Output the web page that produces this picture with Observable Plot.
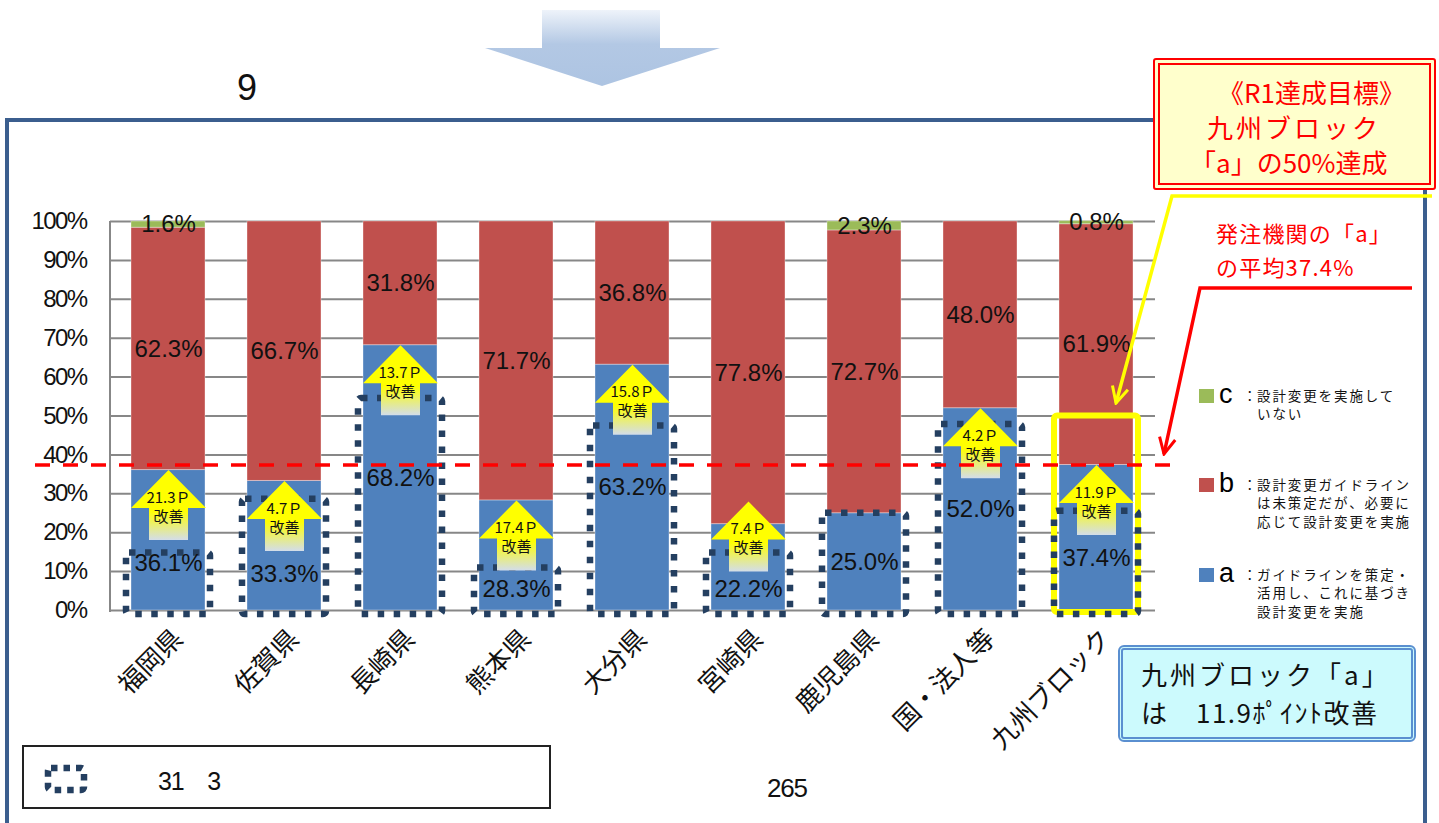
<!DOCTYPE html>
<html lang="ja">
<head>
<meta charset="utf-8">
<title>設計変更ガイドラインの策定・活用状況</title>
<script src="https://cdn.jsdelivr.net/npm/d3@7"></script>
<script src="https://cdn.jsdelivr.net/npm/@observablehq/plot@0.6"></script>
<style>
  html, body { margin: 0; padding: 0; background: #fff; overflow: hidden; }
  #page { position: relative; width: 1439px; height: 823px; font-family: "Noto Sans CJK JP", sans-serif; }
  .abs { position: absolute; }
  #chart svg { position: absolute; left: 0; top: 0; }
  g[aria-label="value label"] text { letter-spacing: -1.3px; }
  g[aria-label="y-axis tick label"] text { letter-spacing: -1.6px; }
  g[aria-label="arrow label"] text { letter-spacing: 0.6px; }
  #frame { left: 5px; top: 118px; width: 1414px; height: 760px; border: 4px solid #3B5E8E; }
  .redbox { left: 1153px; top: 58px; width: 269px; height: 118px; border: 7px double #FF0000; background: #FFFFCC;
            color: #FF0000; font-size: 26px; line-height: 35px; border-radius: 3px; }
  .cyanbox { left: 1118px; top: 645px; width: 288px; height: 87px; border: 5px double #5A8FD0; border-radius: 6px;
             background: #CCFAFD; color: #111; font-size: 26px; line-height: 38px; }
  .note { color: #FF0000; font-size: 22px; line-height: 32px; letter-spacing: 1.2px; left: 1216px; white-space: nowrap; }
  .legend-sq { width: 15px; height: 14px; }
  .legend-key { font-family: "Liberation Sans", Arial, sans-serif; font-size: 27px; line-height: 20px; }
  .legend-txt { font-size: 13.5px; line-height: 18.4px; letter-spacing: 1.9px; color: #111; white-space: nowrap; }
  .legend-colon { font-size: 13.5px; line-height: 18.4px; color: #111; }
  .footbox { left: 22px; top: 745px; width: 525px; height: 60px; border: 2px solid #222; }
  .digits { font-family: "Liberation Sans", Arial, sans-serif; color: #111; letter-spacing: -1.2px; }
</style>
</head>
<body>
<div id="page">
  <div id="frame" class="abs"></div>
  <div id="chart"></div>
</div>
<script>
// Categories (prefectures and groups) along the x axis
const categories = ["福岡県", "佐賀県", "長崎県", "熊本県", "大分県", "宮崎県", "鹿児島県", "国・法人等", "九州ブロック"];
// Share of each response (percent)
const shareA = [36.1, 33.3, 68.2, 28.3, 63.2, 22.2, 25.0, 52.0, 37.4];
const shareB = [62.3, 66.7, 31.8, 71.7, 36.8, 77.8, 72.7, 48.0, 61.9];
const shareC = [1.6, 0, 0, 0, 0, 0, 2.3, 0, 0.8];
// Improvement of "a" in points since the previous survey
const improvement = [21.3, 4.7, 13.7, 17.4, 15.8, 7.4, 0, 4.2, 11.9];
// R1 target for the Kyushu block "a" share
const targetKyushuA = 50;
const seriesKeys = ["a", "b", "c"];
const seriesColors = ["#4F81BD", "#C0504D", "#9BBB59"];
const yTicks = [0, 10, 20, 30, 40, 50, 60, 70, 80, 90, 100];

const legendItems = [
  {key: "c", lines: ["設計変更を実施して", "いない"]},
  {key: "b", lines: ["設計変更ガイドライン", "は未策定だが、必要に", "応じて設計変更を実施"]},
  {key: "a", lines: ["ガイドラインを策定・", "活用し、これに基づき", "設計変更を実施"]}
];

const fmt = v => v.toFixed(1) + "%";
const kyushu = categories.length - 1;
// Arrows on very short bars are lifted so they do not cover the value label
const arrowFloor = 28;

// Long-format rows for the stacked bars
const rows = [];
categories.forEach((cat, i) => {
  rows.push({cat, series: "a", value: shareA[i]});
  rows.push({cat, series: "b", value: shareB[i]});
  rows.push({cat, series: "c", value: shareC[i]});
});

// Previous "a" share (dotted outline) = current minus improvement
const priorRows = categories.map((cat, i) => ({cat, prev: +(shareA[i] - improvement[i]).toFixed(1)}));
// Improvement arrows sit on top of the current "a" share
const arrowRows = categories
  .map((cat, i) => ({cat, tip: Math.max(shareA[i], arrowFloor), label: improvement[i].toFixed(1) + "Ｐ", imp: improvement[i]}))
  .filter(d => d.imp > 0);

// Segment labels; "a" labels move below the arrow where the arrow covers the middle
const labelRows = [];
categories.forEach((cat, i) => {
  const a = shareA[i], b = shareB[i], c = shareC[i];
  const tip = Math.max(a, arrowFloor);
  const ya = improvement[i] > 0 ? Math.max(5.5, Math.min(a / 2, tip - 24)) : a / 2;
  labelRows.push({cat, y: ya, text: fmt(a)});
  labelRows.push({cat, y: a + b / 2, text: fmt(b)});
  if (c > 0) labelRows.push({cat, y: a + b + c / 2, text: fmt(c)});
});

// Block arrow symbol: tip at the anchor, head as wide as the bar, shaft below
const upArrow = {
  draw(ctx) {
    ctx.moveTo(0, 0);
    ctx.lineTo(37.5, 38);
    ctx.lineTo(19.5, 38);
    ctx.lineTo(19.5, 70);
    ctx.lineTo(-19.5, 70);
    ctx.lineTo(-19.5, 38);
    ctx.lineTo(-37.5, 38);
    ctx.closePath();
  }
};

// Gradient used by the improvement arrows
const gradientDefs = () => {
  const defs = d3.create("svg:defs");
  const g = defs.append("linearGradient").attr("id", "arrowFill")
    .attr("x1", 0).attr("y1", 0).attr("x2", 0).attr("y2", 1);
  g.append("stop").attr("offset", 0).attr("stop-color", "#FFFF00");
  g.append("stop").attr("offset", 0.58).attr("stop-color", "#FFFF00");
  g.append("stop").attr("offset", 1).attr("stop-color", "#D3DDEA");
  return defs.node();
};

// Vertical axis line at the left edge of the plot area
const leftAxisLine = (index, scales, values, dims) =>
  d3.create("svg:line")
    .attr("x1", dims.marginLeft).attr("x2", dims.marginLeft)
    .attr("y1", dims.marginTop).attr("y2", dims.height - dims.marginBottom + 2)
    .attr("stroke", "#878787").attr("stroke-width", 2)
    .node();

const chart = Plot.plot({
  width: 1439,
  height: 823,
  marginLeft: 110,
  marginRight: 284,
  marginTop: 221,
  marginBottom: 213,
  style: {background: "transparent", fontFamily: "'Liberation Sans', Arial, sans-serif", color: "#111", overflow: "visible"},
  x: {domain: categories, paddingInner: 0.36, paddingOuter: 0.18, label: null},
  y: {domain: [0, 100], label: null},
  color: {domain: seriesKeys, range: seriesColors},
  marks: [
    gradientDefs,
    Plot.gridY(yTicks, {stroke: "#878787", strokeOpacity: 1, strokeWidth: 2}),
    leftAxisLine,
    Plot.barY(rows, {x: "cat", y: "value", fill: "series", stroke: "#ffffff", strokeOpacity: 0.35, strokeWidth: 1}),
    Plot.barY([{cat: categories[kyushu], target: targetKyushuA}], {
      x: "cat", y: "target", fill: "none", stroke: "#FFFF00", strokeWidth: 6,
      insetLeft: -5, insetRight: -5, insetBottom: -2, rx: 3
    }),
    Plot.barY(priorRows, {
      x: "cat", y: "prev", fill: "none", stroke: "#243F60", strokeWidth: 6.5,
      strokeDasharray: "6.5,9.5", insetLeft: -5, insetRight: -5, insetBottom: -4, rx: 3
    }),
    Plot.dot(arrowRows, {x: "cat", y: "tip", symbol: upArrow, r: 1, fill: "url(#arrowFill)", stroke: "none"}),
    Plot.ruleY([shareA[kyushu]], {
      stroke: "#FF0000", strokeWidth: 3.5, strokeDasharray: "15,13", insetLeft: -75, insetRight: -20
    }),
    Plot.text(arrowRows, {x: "cat", y: "tip", text: "label", dy: 28, fontSize: 15, fontFamily: "Noto Sans CJK JP", fill: "#111", ariaLabel: "arrow label"}),
    Plot.text(arrowRows, {x: "cat", y: "tip", text: () => "改善", dy: 47, fontSize: 15, fontFamily: "Noto Sans CJK JP", fill: "#111"}),
    Plot.text(labelRows, {x: "cat", y: "y", text: "text", fontSize: 24, fill: "#111", ariaLabel: "value label"}),
    Plot.axisY(yTicks, {tickSize: 0, tickPadding: 24, tickFormat: d => d + "%", fontSize: 24}),
    Plot.axisX({tickRotate: -45, tickSize: 0, tickPadding: 24, dx: 10, fontSize: 26, fontFamily: "Noto Sans CJK JP"})
  ]
});
document.getElementById("chart").appendChild(chart);

const page = d3.select("#page");

// Annotation layer: big arrow at the top and callout lines
const ov = page.append("svg").attr("class", "abs")
  .style("left", 0).style("top", 0)
  .attr("width", 1439).attr("height", 823);
const defs = ov.append("defs");
const bg = defs.append("linearGradient").attr("id", "bigArrow")
  .attr("gradientUnits", "userSpaceOnUse").attr("x1", 0).attr("y1", 10).attr("x2", 0).attr("y2", 86);
bg.append("stop").attr("offset", 0).attr("stop-color", "#EEF3FA");
bg.append("stop").attr("offset", 0.45).attr("stop-color", "#B3C8E4");
bg.append("stop").attr("offset", 1).attr("stop-color", "#ADC4E2");
ov.append("path")
  .attr("d", "M542,10 L660,10 L660,48 L720,48 L602,86 L485,48 L542,48 Z")
  .attr("fill", "url(#bigArrow)");
ov.append("text").attr("x", 247).attr("y", 100).attr("text-anchor", "middle")
  .attr("font-family", "'Liberation Sans', Arial, sans-serif").attr("font-size", 36).attr("fill", "#111").text("9");

function marker(id, color) {
  defs.append("marker").attr("id", id).attr("viewBox", "0 0 20 20").attr("refX", 18).attr("refY", 10)
    .attr("markerWidth", 20).attr("markerHeight", 20).attr("markerUnits", "userSpaceOnUse").attr("orient", "auto")
    .append("path").attr("d", "M2,2 L18,10 L2,18").attr("fill", "none").attr("stroke", color).attr("stroke-width", 3);
}
marker("yhead", "#FFFF00");
marker("rhead", "#FF0000");
ov.append("path").attr("d", "M1432,196 L1172,196 L1116,403")
  .attr("fill", "none").attr("stroke", "#FFFF00").attr("stroke-width", 3.5).attr("marker-end", "url(#yhead)");
ov.append("path").attr("d", "M1412,288 L1200,288 L1164,454")
  .attr("fill", "none").attr("stroke", "#FF0000").attr("stroke-width", 3.5).attr("marker-end", "url(#rhead)");

// Target box
page.append("div").attr("class", "abs redbox").html(
  '<div style="padding-left:58px;margin-top:9px">《R1達成目標》</div>' +
  '<div style="padding-left:47px;letter-spacing:3px">九州ブロック</div>' +
  '<div style="padding-left:30px">「a」の50%達成</div>');

// Average note
page.append("div").attr("class", "abs note").style("top", "216px").text("発注機関の「a」");
page.append("div").attr("class", "abs note").style("top", "250px").text("の平均" + shareA[kyushu].toFixed(1) + "%");

// Legend
const legendTops = [389, 478, 568];
legendItems.forEach((item, k) => {
  const top = legendTops[k];
  const color = seriesColors[seriesKeys.indexOf(item.key)];
  page.append("div").attr("class", "abs legend-sq").style("left", "1199px").style("top", top + "px").style("background", color);
  page.append("div").attr("class", "abs legend-key").style("left", "1219px").style("top", (top - 5) + "px").text(item.key);
  page.append("div").attr("class", "abs legend-colon").style("left", "1243px").style("top", (top - 3) + "px").text("：");
  page.append("div").attr("class", "abs legend-txt").style("left", "1257px").style("top", (top - 3) + "px")
    .html(item.lines.join("<br>"));
});

// Summary box
page.append("div").attr("class", "abs cyanbox").html(
  '<div style="padding-left:18px;margin-top:5px;letter-spacing:3px">九州ブロック「a」</div>' +
  '<div style="padding-left:18px;letter-spacing:1.5px">は　' + improvement[kyushu].toFixed(1) + 'ﾎﾟｲﾝﾄ改善</div>');

// Footer note box with dotted marker
const foot = page.append("div").attr("class", "abs footbox");
const fs = foot.append("svg").attr("class", "abs").style("left", "18px").style("top", "15px")
  .attr("width", 50).attr("height", 36);
fs.append("rect").attr("x", 6).attr("y", 6).attr("width", 36).attr("height", 22).attr("rx", 3)
  .attr("fill", "none").attr("stroke", "#243F60").attr("stroke-width", 6.5).attr("stroke-dasharray", "6.5,6");
foot.append("div").attr("class", "abs digits").style("left", "134px").style("top", "18px")
  .style("font-size", "25px").text("31　3");

page.append("div").attr("class", "abs digits").style("left", "767px").style("top", "773px")
  .style("font-size", "26px").text("265");
</script>
</body>
</html>
